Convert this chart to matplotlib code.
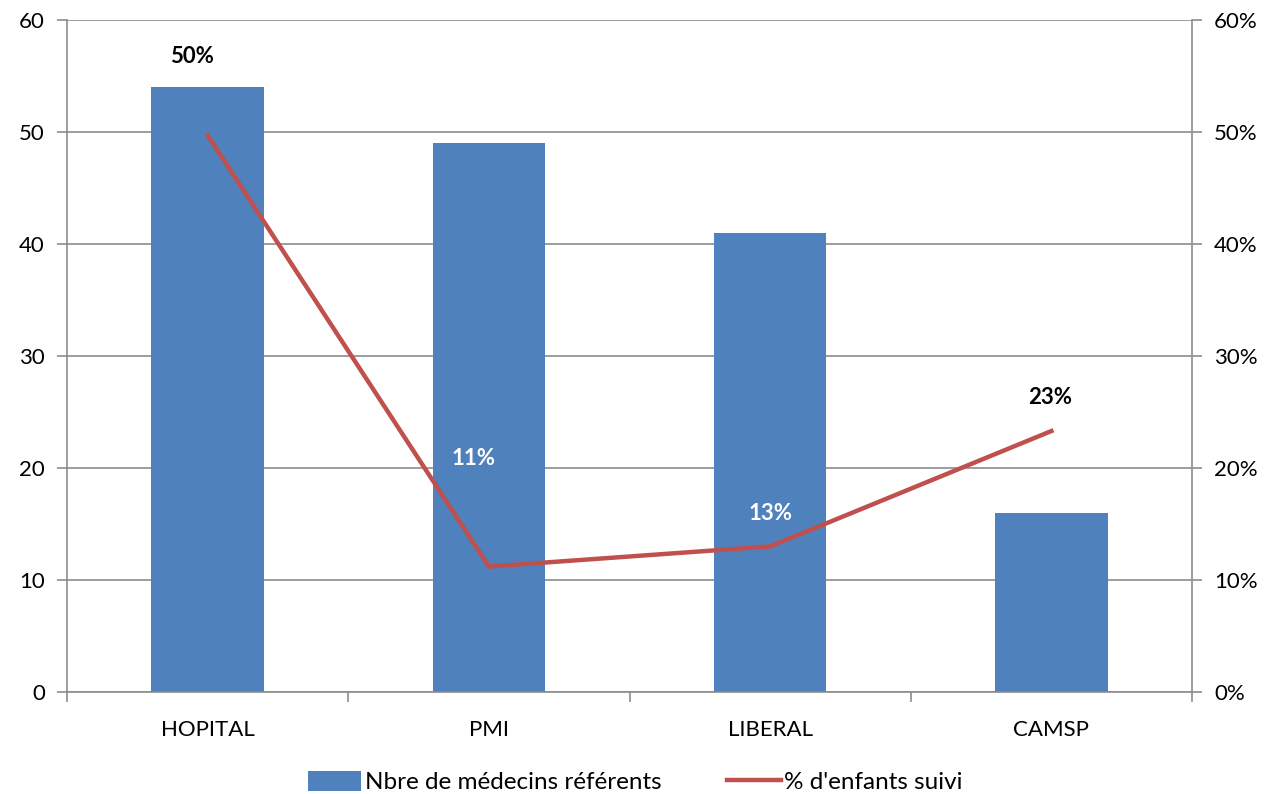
import matplotlib.pyplot as plt
from matplotlib.ticker import PercentFormatter

plt.rcParams['font.family'] = ['Lato', 'DejaVu Sans']

categories = ['HOPITAL', 'PMI', 'LIBERAL', 'CAMSP']
nb_medecins = [54, 49, 41, 16]
pct_enfants = [49.7, 11.2, 13.0, 23.3]
pct_labels = ['50%', '11%', '13%', '23%']

bar_color = '#4F81BD'
line_color = '#C0504D'
grid_color = '#8C8C8C'

fig = plt.figure(figsize=(12.71, 7.94), dpi=100)
ax = fig.add_axes([67 / 1271, 102 / 794, 1125 / 1271, 672 / 794])
x = list(range(len(categories)))

bars = ax.bar(x, nb_medecins, width=0.4, color=bar_color, zorder=2,
              label='Nbre de médecins référents')
ax.set_xlim(-0.5, len(categories) - 0.5)
ax.set_ylim(0, 60)
ax.set_yticks(range(0, 61, 10))
ax.yaxis.grid(True, color=grid_color, linewidth=1.2, zorder=0)
ax.set_axisbelow(True)
ax.set_xticks(x)
ax.set_xticklabels(categories)
ax.set_xticks([i + 0.5 for i in range(-1, len(categories))], minor=True)
ax.tick_params(axis='x', which='major', length=0, pad=20, labelsize=16)
ax.tick_params(axis='x', which='minor', length=7, width=1.2, color=grid_color, direction='out')
ax.tick_params(axis='y', length=7, width=1.2, color=grid_color, labelsize=16, pad=9)
for s in ['top', 'right']:
    ax.spines[s].set_visible(False)
for s in ['left', 'bottom']:
    ax.spines[s].set_color(grid_color)
    ax.spines[s].set_linewidth(1.2)

ax2 = ax.twinx()
line, = ax2.plot(x, pct_enfants, color=line_color, linewidth=3.2,
                 label="% d'enfants suivi", zorder=3)
ax2.set_ylim(0, 60)
ax2.set_yticks(range(0, 61, 10))
ax2.yaxis.set_major_formatter(PercentFormatter(decimals=0))
ax2.tick_params(axis='y', length=7, width=1.2, color=grid_color, labelsize=16, pad=9)
for s in ['top', 'left', 'bottom']:
    ax2.spines[s].set_visible(False)
ax2.spines['right'].set_color(grid_color)
ax2.spines['right'].set_linewidth(1.2)

offsets = [(-11, 57), (-11, 78), (0, 24), (-1, 24)]
colors = ['black', 'white', 'white', 'black']
for xi, yi, lab, off, c in zip(x, pct_enfants, pct_labels, offsets, colors):
    ax2.annotate(lab, (xi, yi), xytext=off, textcoords='offset points',
                 ha='center', va='center', fontsize=16, fontweight='bold', color=c)

leg = fig.legend([bars, line], ['Nbre de médecins référents', "% d'enfants suivi"],
                 loc='center', bbox_to_anchor=(0.5, 12 / 794), ncol=2, frameon=False,
                 fontsize=17.5, handlelength=2.2, handleheight=0.9, columnspacing=2.7,
                 handletextpad=0.15)

fig.savefig('out.png', dpi=100)
